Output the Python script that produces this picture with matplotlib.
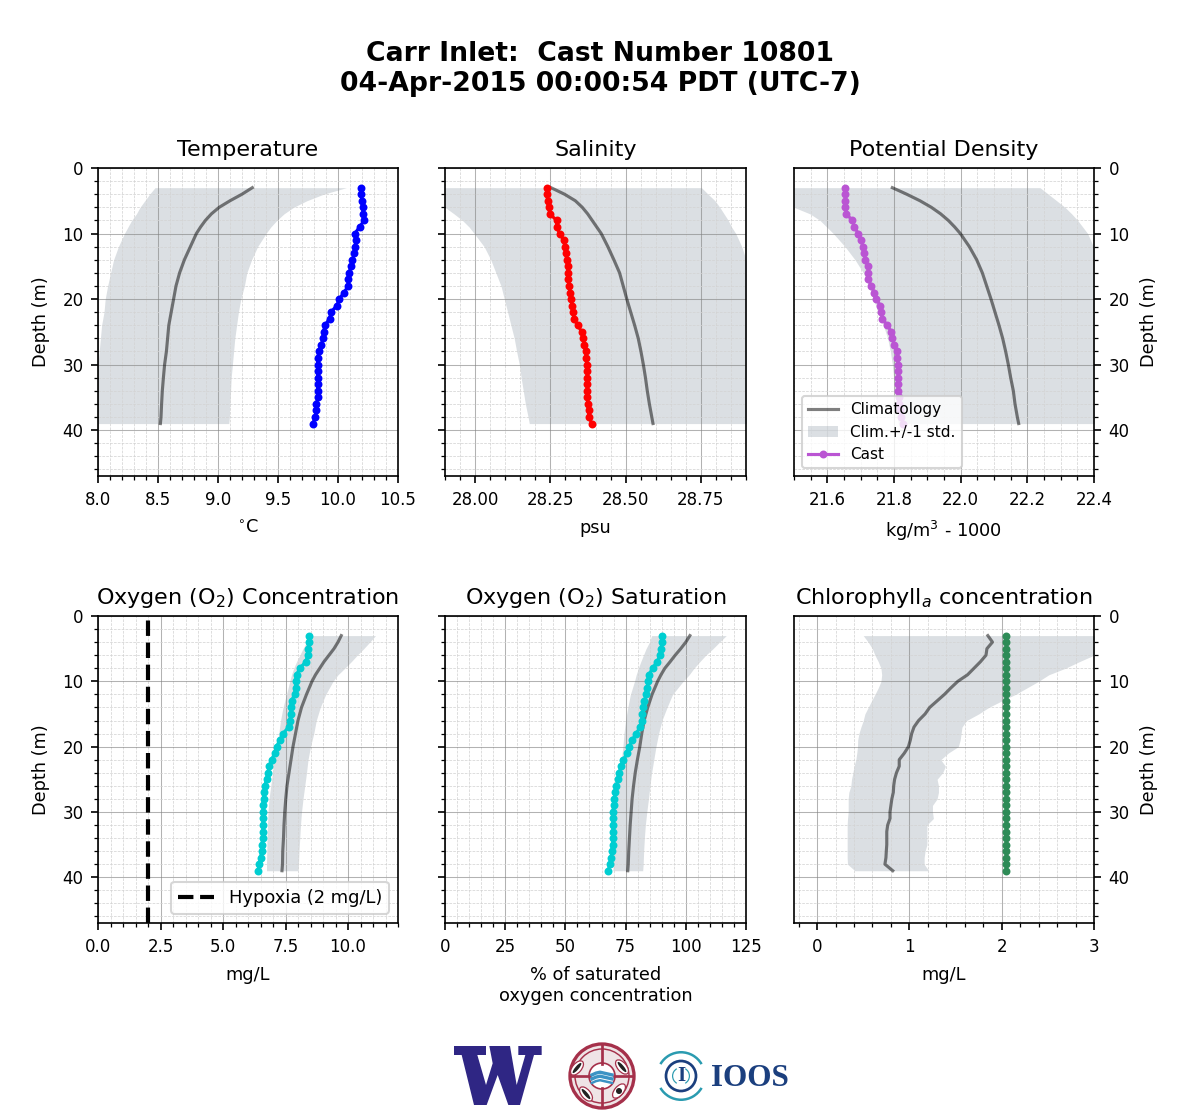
import numpy as np
import matplotlib
matplotlib.use('Agg')
import matplotlib.pyplot as plt
from matplotlib.patches import Circle, Wedge, Polygon, Ellipse
from matplotlib.ticker import MultipleLocator

cast_depth = [3, 4, 5, 6, 7, 8, 9, 10, 11, 12, 13, 14, 15, 16, 17, 18, 19, 20, 21, 22, 23,
              24, 25, 26, 27, 28, 29, 30, 31, 32, 33, 34, 35, 36, 37, 38, 39]
clim_depth = [3, 4, 5, 6, 7, 8, 9, 10, 12, 14, 16, 18, 20, 22, 24, 26, 28, 30, 32, 34, 36, 38, 39]

temp_cast = [10.19, 10.19, 10.2, 10.205, 10.21, 10.217, 10.18, 10.14, 10.15, 10.14, 10.135, 10.12,
             10.11, 10.09, 10.085, 10.085, 10.05, 10.01, 9.99, 9.94, 9.93, 9.89, 9.88, 9.875, 9.86,
             9.84, 9.83, 9.83, 9.83, 9.83, 9.83, 9.83, 9.83, 9.82, 9.82, 9.81, 9.79]
temp_clim = [9.286, 9.2, 9.1, 9.01, 8.945, 8.895, 8.855, 8.82, 8.77, 8.72, 8.68, 8.65, 8.63, 8.61,
             8.59, 8.58, 8.57, 8.555, 8.545, 8.536, 8.53, 8.525, 8.52]
temp_low = [8.475, 8.43, 8.39, 8.35, 8.32, 8.28, 8.25, 8.22, 8.17, 8.13, 8.105, 8.08, 8.06, 8.05,
            8.03, 8.02, 8.01, 8.0, 7.99, 7.98, 7.97, 7.96, 7.96]
temp_high = [10.07, 9.88, 9.74, 9.63, 9.55, 9.49, 9.44, 9.4, 9.33, 9.28, 9.24, 9.22, 9.19, 9.17,
             9.155, 9.14, 9.13, 9.12, 9.11, 9.105, 9.1, 9.095, 9.09]

sal_cast = [28.238, 28.238, 28.241, 28.244, 28.248, 28.271, 28.271, 28.281, 28.294, 28.298, 28.301,
            28.304, 28.308, 28.308, 28.309, 28.311, 28.316, 28.319, 28.322, 28.326, 28.328, 28.341,
            28.354, 28.359, 28.363, 28.368, 28.368, 28.371, 28.372, 28.372, 28.372, 28.372, 28.373,
            28.374, 28.377, 28.377, 28.389]
sal_clim = [28.252, 28.297, 28.333, 28.356, 28.374, 28.389, 28.404, 28.419, 28.441, 28.461, 28.48,
            28.492, 28.504, 28.517, 28.53, 28.542, 28.551, 28.559, 28.566, 28.572, 28.579, 28.587,
            28.591]
sal_low = [27.8, 27.84, 27.87, 27.9, 27.93, 27.958, 27.98, 27.997, 28.03, 28.052, 28.069, 28.086,
           28.097, 28.108, 28.119, 28.13, 28.138, 28.147, 28.153, 28.16, 28.167, 28.176, 28.18]
sal_high = [28.752, 28.774, 28.797, 28.813, 28.827, 28.841, 28.852, 28.866, 28.886, 28.9, 28.92,
            28.94, 28.96, 28.97, 28.98, 28.99, 29.0, 29.01, 29.02, 29.03, 29.03, 29.04, 29.04]

dens_cast = [21.654, 21.654, 21.654, 21.654, 21.657, 21.675, 21.681, 21.693, 21.702, 21.706, 21.711,
             21.714, 21.723, 21.723, 21.723, 21.732, 21.741, 21.747, 21.759, 21.762, 21.765, 21.78,
             21.792, 21.795, 21.801, 21.81, 21.81, 21.813, 21.813, 21.813, 21.813, 21.813, 21.815,
             21.816, 21.818, 21.822, 21.828]
dens_clim = [21.795, 21.838, 21.878, 21.912, 21.94, 21.963, 21.982, 21.999, 22.026, 22.048, 22.065,
             22.078, 22.091, 22.103, 22.115, 22.126, 22.135, 22.143, 22.15, 22.158, 22.163, 22.17,
             22.174]
dens_low = [21.38, 21.43, 21.47, 21.5, 21.548, 21.578, 21.598, 21.618, 21.653, 21.683, 21.708, 21.725,
            21.738, 21.753, 21.768, 21.781, 21.789, 21.795, 21.799, 21.803, 21.806, 21.81, 21.813]
dens_high = [22.238, 22.263, 22.288, 22.313, 22.333, 22.351, 22.366, 22.381, 22.398, 22.42, 22.44,
             22.46, 22.48, 22.5, 22.52, 22.53, 22.54, 22.55, 22.56, 22.57, 22.58, 22.59, 22.59]

oxy_cast = [8.43, 8.43, 8.4, 8.39, 8.31, 8.07, 7.94, 7.9, 7.9, 7.86, 7.74, 7.72, 7.7, 7.67, 7.62,
            7.4, 7.27, 7.14, 7.07, 6.94, 6.84, 6.8, 6.74, 6.67, 6.63, 6.62, 6.6, 6.6, 6.6, 6.6,
            6.59, 6.58, 6.56, 6.54, 6.5, 6.45, 6.4]
oxy_clim = [9.73, 9.6, 9.44, 9.24, 9.04, 8.87, 8.7, 8.56, 8.34, 8.14, 8.0, 7.9, 7.8, 7.72, 7.64,
            7.56, 7.51, 7.47, 7.44, 7.42, 7.39, 7.38, 7.36]
oxy_low = [8.54, 8.34, 8.2, 8.07, 7.94, 7.83, 7.74, 7.67, 7.54, 7.4, 7.3, 7.23, 7.14, 7.04, 6.98,
           6.91, 6.84, 6.8, 6.78, 6.76, 6.75, 6.74, 6.74]
oxy_high = [11.1, 10.87, 10.63, 10.37, 10.13, 9.87, 9.6, 9.4, 9.11, 8.89, 8.73, 8.63, 8.5, 8.4,
            8.34, 8.27, 8.2, 8.14, 8.1, 8.07, 8.04, 8.02, 8.0]

sat_cast = [90.0, 90.1, 89.7, 89.4, 88.0, 86.2, 84.6, 84.3, 84.0, 83.5, 82.8, 82.3, 82.0, 81.7, 81.0,
            79.4, 77.7, 76.6, 75.5, 74.1, 72.9, 72.4, 71.8, 71.1, 70.7, 70.3, 70.0, 69.7, 69.7, 69.7,
            69.7, 69.7, 69.6, 69.3, 69.0, 68.5, 67.7]
sat_clim = [101.7, 100.0, 97.9, 95.6, 93.5, 91.3, 89.7, 88.3, 86.0, 84.2, 82.7, 81.7, 80.9, 79.9, 79.0,
            78.3, 77.7, 77.3, 76.9, 76.6, 76.3, 76.1, 75.9]
sat_low = [85.8, 84.9, 83.5, 82.4, 81.3, 80.3, 79.4, 78.7, 77.0, 75.9, 75.0, 74.3, 73.9, 73.2, 72.5,
           71.8, 71.1, 70.7, 70.4, 70.2, 70.0, 69.9, 69.7]
sat_high = [116.8, 114.0, 111.3, 108.3, 105.8, 103.4, 101.4, 98.9, 94.5, 92.2, 90.1, 88.7, 87.6, 86.7,
            85.8, 85.1, 84.5, 83.8, 83.2, 82.8, 82.5, 82.3, 82.1]

chl_cast = [2.05, 2.05, 2.05, 2.05, 2.05, 2.05, 2.05, 2.05, 2.05, 2.05, 2.05, 2.05, 2.05, 2.05, 2.05,
            2.05, 2.05, 2.05, 2.05, 2.05, 2.05, 2.05, 2.05, 2.05, 2.05, 2.05, 2.05, 2.05, 2.05, 2.05,
            2.05, 2.05, 2.05, 2.05, 2.05, 2.05, 2.05]
chl_clim = [1.85, 1.9, 1.84, 1.83, 1.77, 1.7, 1.63, 1.525, 1.45, 1.38, 1.3, 1.22, 1.17, 1.1, 1.05,
            1.025, 1.01, 0.99, 0.945, 0.89, 0.89, 0.86, 0.84, 0.83, 0.826, 0.81, 0.8, 0.79, 0.79,
            0.765, 0.755, 0.755, 0.755, 0.75, 0.746, 0.735, 0.82]
chl_low = [0.5, 0.554, 0.598, 0.627, 0.663, 0.692, 0.7, 0.692, 0.663, 0.627, 0.59, 0.554, 0.518, 0.5,
           0.475, 0.453, 0.44, 0.438, 0.43, 0.42, 0.4, 0.388, 0.373, 0.366, 0.344, 0.337, 0.337, 0.337,
           0.33, 0.326, 0.326, 0.326, 0.326, 0.326, 0.326, 0.33, 0.41]
chl_high = [3.2, 3.3, 3.15, 3.0, 2.84, 2.69, 2.51, 2.4, 2.275, 2.15, 2.0, 1.86, 1.75, 1.62, 1.57, 1.56,
            1.55, 1.53, 1.42, 1.34, 1.39, 1.36, 1.3, 1.315, 1.315, 1.3, 1.25, 1.25, 1.26, 1.19, 1.19,
            1.19, 1.19, 1.17, 1.16, 1.16, 1.21]

W, H = 1200, 1120
fig = plt.figure(figsize=(8, 7.4667), dpi=150)


def make_axes(left, right, top, bottom):
    return fig.add_axes([left / W, 1 - bottom / H, (right - left) / W, (bottom - top) / H])


def panel(ax, title, xlabel, xlim, major, minor, cast, clim, low, high, color, cdepth=clim_depth, side='left'):
    ax.fill_betweenx(cdepth, low, high, color='slategray', alpha=0.25, lw=0, label='Clim.+/-1 std.')
    ax.plot(clim, cdepth, color='k', alpha=0.5, lw=1.5, label='Climatology')
    ax.plot(cast, cast_depth, color=color, marker='o', ms=2.8, lw=1.5, label='Cast')
    ax.set_xlim(xlim)
    ax.set_ylim(47, 0)
    ax.set_title(title, fontsize=10.7, pad=6)
    ax.set_xlabel(xlabel, fontsize=8.5, labelpad=5)
    ax.xaxis.set_major_locator(MultipleLocator(major))
    ax.xaxis.set_minor_locator(MultipleLocator(minor))
    ax.yaxis.set_major_locator(MultipleLocator(10))
    ax.yaxis.set_minor_locator(MultipleLocator(2))
    ax.tick_params(labelsize=8)
    ax.grid(True, which='major', color='gray', alpha=0.6, lw=0.5)
    ax.grid(True, which='minor', color='lightgray', ls='--', lw=0.35)
    if side == 'right':
        ax.yaxis.tick_right()
        ax.yaxis.set_label_position('right')
        ax.tick_params(axis='y', which='both', left=False, right=True)
        ax.set_ylabel('Depth (m)', fontsize=8.5, labelpad=5)
    elif side == 'left':
        ax.set_ylabel('Depth (m)', fontsize=8.5, labelpad=6)
    else:
        ax.tick_params(axis='y', which='both', labelleft=False)


fig.suptitle('Carr Inlet:  Cast Number 10801\n04-Apr-2015 00:00:54 PDT (UTC-7)', fontsize=12.8,
             fontweight='bold', x=0.5, y=0.9634, va='top')

ax1 = make_axes(98, 398, 168, 476)
panel(ax1, 'Temperature', '$^{\\circ}$C', (8, 10.5), 0.5, 0.1, temp_cast, temp_clim, temp_low, temp_high, 'blue')
ax2 = make_axes(445, 746, 168, 476)
panel(ax2, 'Salinity', 'psu', (27.9, 28.9), 0.25, 0.05, sal_cast, sal_clim, sal_low, sal_high, 'red', side='none')
ax3 = make_axes(794, 1094, 168, 476)
panel(ax3, 'Potential Density', 'kg/m$^3$ - 1000', (21.5, 22.4), 0.2, 0.05, dens_cast, dens_clim, dens_low,
      dens_high, 'mediumorchid', side='right')
h, l = ax3.get_legend_handles_labels()
ax3.legend([h[1], h[0], h[2]], [l[1], l[0], l[2]], loc='lower left', fontsize=7.3)

ax4 = make_axes(98, 398, 616, 923)
panel(ax4, 'Oxygen (O$_2$) Concentration', 'mg/L', (0, 12), 2.5, 0.5, oxy_cast, oxy_clim, oxy_low, oxy_high,
      'darkturquoise')
hyp = ax4.axvline(2, color='k', ls='--', lw=2)
ax4.legend([hyp], ['Hypoxia (2 mg/L)'], loc='lower right', fontsize=8.6)
ax5 = make_axes(445, 746, 616, 923)
panel(ax5, 'Oxygen (O$_2$) Saturation', '% of saturated\noxygen concentration', (0, 125), 25, 5, sat_cast,
      sat_clim, sat_low, sat_high, 'darkturquoise', side='none')
ax6 = make_axes(794, 1094, 616, 923)
panel(ax6, 'Chlorophyll$_a$ concentration', 'mg/L', (-0.25, 3), 1, 0.2, chl_cast, chl_clim, chl_low, chl_high,
      'seagreen', cdepth=cast_depth, side='right')

# logos along the bottom, drawn in pixel coordinates
logo = fig.add_axes([0, 0, 1, 1], zorder=5)
logo.set_xlim(0, W)
logo.set_ylim(H, 0)
logo.axis('off')
logo.patch.set_alpha(0)

uw_shape = [(12, 18), (108, 18), (108, 45), (82, 45), (108, 135), (128, 70), (118, 18), (180, 18),
            (200, 135), (226, 45), (205, 45), (205, 18), (275, 18), (275, 45), (252, 45), (210, 195),
            (175, 195), (143, 105), (110, 195), (72, 195), (35, 45), (12, 45)]
logo.add_patch(Polygon([(450 + x / 3, 1040 + y / 3) for x, y in uw_shape], fc='#2f2684', ec='none'))

crimson = '#a5304a'
logo.add_patch(Circle((602, 1076), 32, fc='#efe4e6', ec=crimson, lw=1.6))
logo.add_patch(Circle((602, 1076), 27, fc='none', ec=crimson, lw=0.7))
for ang in [0, 90, 180, 270]:
    a = np.radians(ang)
    logo.plot([602 + 12 * np.cos(a), 602 + 31 * np.cos(a)], [1076 + 12 * np.sin(a), 1076 + 31 * np.sin(a)],
              color=crimson, lw=1.3)
for cx, cy, ang in [(577, 1068, -50), (622, 1067, 50), (586, 1094, 50)]:
    logo.add_patch(Ellipse((cx, cy), 17, 9, angle=ang, fc='white', ec=crimson, lw=0.6))
    logo.add_patch(Ellipse((cx, cy), 13, 3.5, angle=ang, fc='#222222', ec='none'))
logo.add_patch(Ellipse((619, 1091), 17, 9, angle=-50, fc='white', ec=crimson, lw=0.6))
logo.add_patch(Circle((619, 1091), 3, fc='#222222', ec='none'))
logo.add_patch(Circle((602, 1076), 13, fc='white', ec=crimson, lw=0.8))
for dy, lw_wave in [(-2, 1.6), (2, 1.6), (6, 1.2)]:
    t = np.array([-10, -6, -2, 2, 6, 10])
    logo.plot(602 + t, 1076 + dy - np.array([-1, 1, 2, 1, 0, -1]) * 0.9, color='#3b93c4', lw=lw_wave)

teal = '#2a9bb0'
navy = '#1b3f7e'
logo.add_patch(Wedge((681, 1076), 25, 30, 150, width=2.5, fc=teal, ec='none'))
logo.add_patch(Wedge((681, 1076), 25, 210, 330, width=2.5, fc=teal, ec='none'))
logo.add_patch(Circle((681, 1076), 15, fc='none', ec=navy, lw=1.3))
logo.add_patch(Wedge((681, 1076), 9, 120, 240, width=1.2, fc=teal, ec='none'))
logo.add_patch(Wedge((681, 1076), 9, -60, 60, width=1.2, fc=teal, ec='none'))
logo.text(681, 1076, 'I', family='Liberation Serif', fontweight='bold', fontsize=10, color=navy,
          ha='center', va='center')
logo.text(750, 1085.5, 'IOOS', family='Liberation Serif', fontweight='bold', fontsize=15, color=navy,
          ha='center', va='baseline')

fig.savefig('out.png', dpi=150)
